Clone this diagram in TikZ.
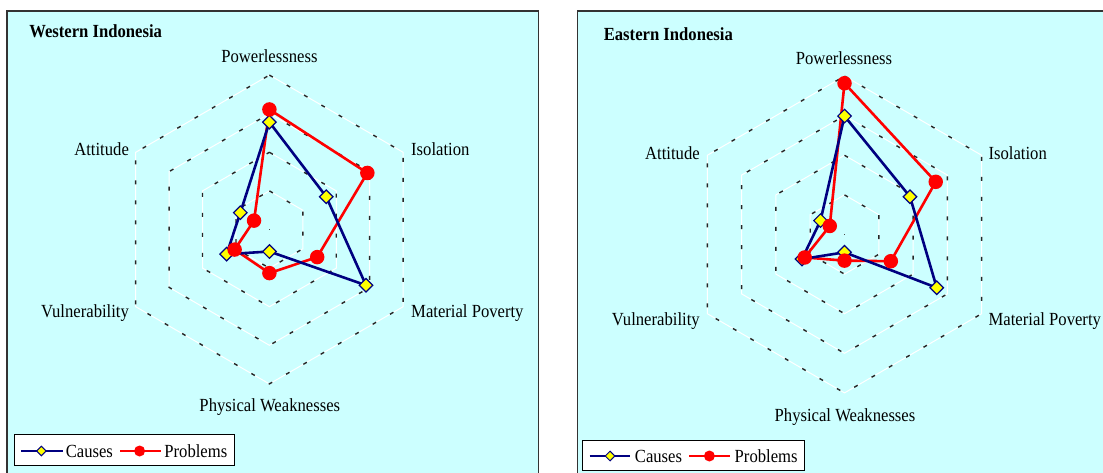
\documentclass[tikz,border=0pt]{standalone}
\usepackage{fontspec}
\setmainfont[FakeStretch=0.9]{Liberation Serif}
\usetikzlibrary{shapes.geometric}
\definecolor{bgcyan}{HTML}{CCFFFF}
\definecolor{navyc}{HTML}{000080}
\definecolor{redp}{HTML}{FF0000}
\definecolor{yel}{HTML}{FFFF00}
\definecolor{framec}{HTML}{333333}
\tikzset{
 lbl/.style={font=\fontsize{18.5}{20}\selectfont, inner sep=0pt, text=black},
 ttl/.style={font=\fontsize{18.5}{20}\selectfont\bfseries, inner sep=0pt, text=black},
 causeline/.style={draw=navyc, line width=2.6pt, line join=round},
 probline/.style={draw=redp, line width=2.6pt, line join=round},
 dia/.style={diamond, draw=navyc, fill=yel, line width=1.2pt, minimum size=14pt, inner sep=0pt},
 dot/.style={circle, fill=redp, minimum size=14.5pt, inner sep=0pt},
 ldia/.style={diamond, draw=navyc, fill=yel, line width=1pt, minimum size=10pt, inner sep=0pt},
 ldot/.style={circle, fill=redp, minimum size=11pt, inner sep=0pt},
 gridwhite/.style={draw=white, line width=1pt},
 gridblack/.style={draw=black!85, line width=1.4pt, dash pattern=on 4pt off 16pt},
 panelbox/.style={draw=framec, line width=1.3pt, fill=bgcyan},
 legbox/.style={draw=black, fill=white, line width=0.9pt, inner sep=0pt},
 cdot/.style={rectangle, fill=black!70, inner sep=0pt, minimum size=1.6pt},
}
\begin{document}
\begin{tikzpicture}[x=1pt,y=-1pt]
\useasboundingbox (0,0) rectangle (1103,473);
\clip (0,0) rectangle (1103,473);
\fill[white] (0,0) rectangle (1103,473);
% panels
\path[panelbox] (7,11) rectangle (538.3,490);
\path[panelbox] (577.3,11) rectangle (1120,490);

% ---------- Western Indonesia chart ----------
\begin{scope}[shift={(269.4,229.5)}, yscale=-1]
 \def\u{38.6}
 \foreach \k in {1,...,4}{
  \draw[gridwhite] (90:{\k*\u}) -- (30:{\k*\u}) -- (-30:{\k*\u}) -- (-90:{\k*\u}) -- (210:{\k*\u}) -- (150:{\k*\u}) -- cycle;
  \draw[gridblack] (90:{\k*\u}) -- (30:{\k*\u}) -- (-30:{\k*\u}) -- (-90:{\k*\u}) -- (210:{\k*\u}) -- (150:{\k*\u}) -- cycle;
 }
 \node[cdot] (wcenter) at (0,0) {};
 \foreach \a/\v [count=\i] in {90/2.78, 30/1.70, -30/2.89, -90/0.57, 210/1.28, 150/0.87}
  \coordinate (wc\i) at (\a:{\v*\u});
 \foreach \a/\v [count=\i] in {90/3.11, 30/2.93, -30/1.43, -90/1.13, 210/1.04, 150/0.46}
  \coordinate (wp\i) at (\a:{\v*\u});
 \draw[probline] (wp1) -- (wp2) -- (wp3) -- (wp4) -- (wp5) -- (wp6) -- cycle;
 \draw[causeline] (wc1) -- (wc2) -- (wc3) -- (wc4) -- (wc5) -- (wc6) -- cycle;
 \foreach \i in {1,...,6} \node[dia] (wcm\i) at (wc\i) {};
 \foreach \i in {1,...,6} \node[dot] (wpm\i) at (wp\i) {};
\end{scope}

\node[ttl, anchor=base west] (wtitle) at (29.1,37.7) {Western Indonesia};
\node[lbl, anchor=base] (wlP) at (269.4,62.7) {Powerlessness};
\node[lbl, anchor=base west] (wlI) at (411,156) {Isolation};
\node[lbl, anchor=base west] (wlM) at (411,317.7) {Material Poverty};
\node[lbl, anchor=base] (wlPh) at (269.8,411.7) {Physical Weaknesses};
\node[lbl, anchor=base east] (wlV) at (129.1,317.7) {Vulnerability};
\node[lbl, anchor=base east] (wlA) at (129.1,156) {Attitude};

% legend west
\node[legbox, minimum width=220.3pt, minimum height=30.7pt] (wleg) at (124.15,449.65) {};
\coordinate (wlc1) at (21,451);
\coordinate (wlc2) at (63.1,451);
\coordinate (wlp1) at (120,451);
\coordinate (wlp2) at (161.3,451);
\draw[causeline] (wlc1) -- (wlc2);
\draw[probline] (wlp1) -- (wlp2);
\node[ldia] (wldia) at (41.4,451) {};
\node[ldot] (wldot) at (139.6,451) {};
\node[lbl, anchor=base west] (wlcaus) at (65.6,457) {Causes};
\node[lbl, anchor=base west] (wlprob) at (164.2,457) {Problems};

% ---------- Eastern Indonesia chart ----------
\begin{scope}[shift={(844.5,234.5)}, yscale=-1]
 \def\u{39.6}
 \foreach \k in {1,...,4}{
  \draw[gridwhite] (90:{\k*\u}) -- (30:{\k*\u}) -- (-30:{\k*\u}) -- (-90:{\k*\u}) -- (210:{\k*\u}) -- (150:{\k*\u}) -- cycle;
  \draw[gridblack] (90:{\k*\u}) -- (30:{\k*\u}) -- (-30:{\k*\u}) -- (-90:{\k*\u}) -- (210:{\k*\u}) -- (150:{\k*\u}) -- cycle;
 }
 \node[cdot] (ecenter) at (0,0) {};
 \foreach \a/\v [count=\i] in {90/2.99, 30/1.91, -30/2.69, -90/0.45, 210/1.24, 150/0.70}
  \coordinate (ec\i) at (\a:{\v*\u});
 \foreach \a/\v [count=\i] in {90/3.82, 30/2.66, -30/1.35, -90/0.66, 210/1.16, 150/0.43}
  \coordinate (ep\i) at (\a:{\v*\u});
 \draw[probline] (ep1) -- (ep2) -- (ep3) -- (ep4) -- (ep5) -- (ep6) -- cycle;
 \draw[causeline] (ec1) -- (ec2) -- (ec3) -- (ec4) -- (ec5) -- (ec6) -- cycle;
 \foreach \i in {1,...,6} \node[dia] (ecm\i) at (ec\i) {};
 \foreach \i in {1,...,6} \node[dot] (epm\i) at (ep\i) {};
\end{scope}

\node[ttl, anchor=base west] (etitle) at (603.6,40.3) {Eastern Indonesia};
\node[lbl, anchor=base] (elP) at (844,64.3) {Powerlessness};
\node[lbl, anchor=base west] (elI) at (988.4,159.3) {Isolation};
\node[lbl, anchor=base west] (elM) at (988.4,325.3) {Material Poverty};
\node[lbl, anchor=base] (elPh) at (845,421.7) {Physical Weaknesses};
\node[lbl, anchor=base east] (elV) at (699.9,325.3) {Vulnerability};
\node[lbl, anchor=base east] (elA) at (699.9,159.3) {Attitude};

% legend east
\node[legbox, minimum width=221.2pt, minimum height=30.7pt] (eleg) at (693.4,455.35) {};
\coordinate (elc1) at (589.5,456);
\coordinate (elc2) at (630.4,456);
\coordinate (elp1) at (689.3,456);
\coordinate (elp2) at (730,456);
\draw[causeline] (elc1) -- (elc2);
\draw[probline] (elp1) -- (elp2);
\node[ldia] (eldia) at (610,456) {};
\node[ldot] (eldot) at (709.4,456) {};
\node[lbl, anchor=base west] (elcaus) at (634.7,462) {Causes};
\node[lbl, anchor=base west] (elprob) at (734.5,462) {Problems};
\end{tikzpicture}
\end{document}
